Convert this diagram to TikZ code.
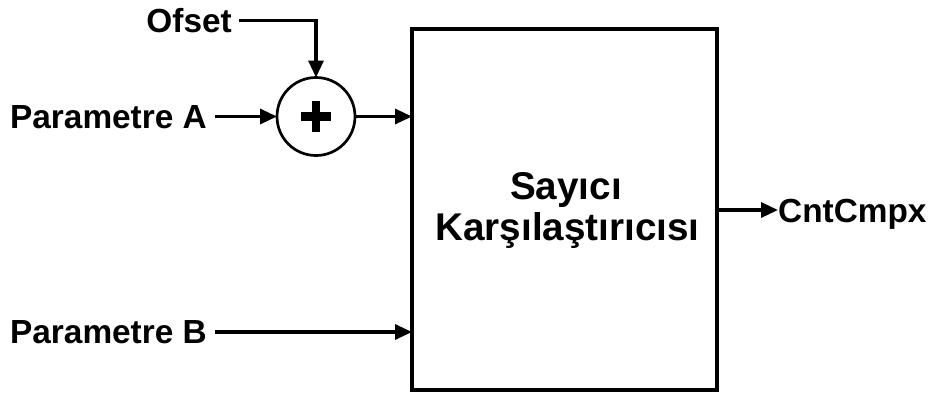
\documentclass[tikz,border=0pt]{standalone}
\usepackage{fontspec}
\setmainfont{Liberation Sans}
\usetikzlibrary{arrows.meta}
\tikzset{
  lbl/.style={font=\fontsize{33.5}{36}\selectfont\bfseries, inner sep=0pt},
  big/.style={font=\fontsize{38.8}{41}\selectfont\bfseries, inner sep=0pt},
  wire/.style={line width=3.3bp, -{Triangle[length=17bp,width=15bp]}},
}
\begin{document}
\begin{tikzpicture}[x=1bp,y=-1bp]
\useasboundingbox (0,0) rectangle (930,396);
% main box
\node[draw, line width=3.3bp, minimum width=305bp, minimum height=361bp, inner sep=0pt, outer sep=0pt] (cmp) at (564.5,209.5) {};
\node[big, anchor=base] (t1) at (566,199) {Sayıcı};
\node[big, anchor=base] (t2) at (567.5,240) {Karşılaştırıcısı};
% summing junction
\node[draw, circle, line width=2.7bp, minimum size=78bp, inner sep=0pt, outer sep=0pt] (sum) at (316,116.5) {};
\fill (sum.center) ++(-15,-4.3) rectangle ++(30,8.6);
\fill (sum.center) ++(-4.3,-15.5) rectangle ++(8.6,31);
% labels
\node[lbl, anchor=base east] (of) at (232,32) {Ofset};
\node[lbl, anchor=base east] (pa) at (207,128) {Parametre A};
\node[lbl, anchor=base east] (pb) at (207,343) {Parametre B};
\node[lbl, anchor=base west] (out) at (778,222) {CntCmpx};
% connectors
\coordinate (ofc) at (316,20.5);
\coordinate (ofs) at (239,20.5);
\coordinate (pas) at (215,116.5);
\coordinate (pbs) at (215,332);
\coordinate (bin) at (412,332);
\coordinate (ain) at (412,116.5);
\coordinate (cs) at (717,210);
\draw[wire] (ofs) -- (ofc) -- (sum.north);
\draw[wire] (pas) -- (sum.west);
\draw[wire] (sum.east) -- (ain);
\draw[wire] (pbs) -- (bin);
\draw[wire] (cs) -- (out.west |- cs);
\end{tikzpicture}
\end{document}
